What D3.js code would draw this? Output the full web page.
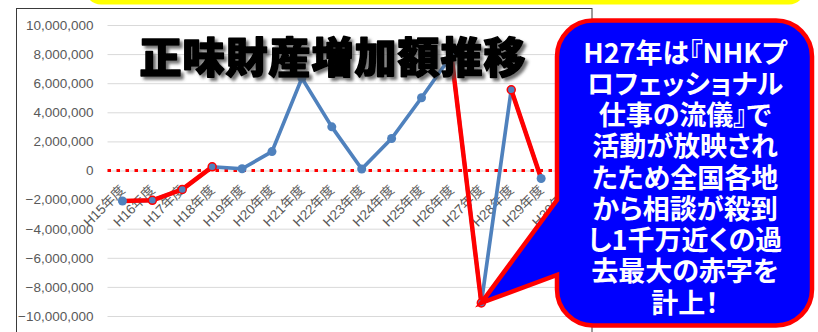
<!DOCTYPE html>
<html>
<head>
<meta charset="utf-8">
<script src="https://cdn.jsdelivr.net/npm/d3@7"></script>
<style>
  html, body { margin: 0; padding: 0; background: #fff; }
  svg { display: block; }
</style>
</head>
<body>
<svg id="chart" width="818" height="332"></svg>
<script>
// ---- data ----
const categories = ["H15年度","H16年度","H17年度","H18年度","H19年度","H20年度","H21年度","H22年度",
                    "H23年度","H24年度","H25年度","H26年度","H27年度","H28年度","H29年度","H30年度"];
const values = [-2100000, -2050000, -1300000, 250000, 120000, 1300000, 6350000, 3000000,
                100000, 2200000, 5000000, 7900000, -9100000, 5550000, -550000, null];
const yTicks = [10000000, 8000000, 6000000, 4000000, 2000000, 0, -2000000, -4000000, -6000000, -8000000, -10000000];
const redSegments = [["H15年度","H18年度"], ["H26年度","H27年度"], ["H28年度","H29年度"]];
const highlighted = ["H16年度","H17年度","H18年度","H27年度","H28年度"];
const titleText = "正味財産増加額推移";
const calloutLines = ["H27年は『NHKプ","ロフェッショナル","仕事の流儀』で","活動が放映され",
                      "たため全国各地","から相談が殺到","し1千万近くの過","去最大の赤字を","計上！"];
const calloutTarget = "H27年度";

// ---- layout ----
const svg = d3.select("#chart");
const plot = {left: 107.5, right: 586, top: 25, bottom: 316};
const x = d3.scaleBand().domain(categories).range([plot.left, plot.right]).padding(0);
const cx = c => x(c) + x.bandwidth() / 2;
const y = d3.scaleLinear().domain([-10000000, 10000000]).range([plot.bottom, plot.top]);

const defs = svg.append("defs");
const f = defs.append("filter").attr("id", "shadow").attr("x", "-10%").attr("y", "-30%").attr("width", "130%").attr("height", "170%");
f.append("feDropShadow").attr("dx", 3).attr("dy", 3).attr("stdDeviation", 1.8)
  .attr("flood-color", "#444").attr("flood-opacity", 0.75);

// yellow banner (cut off at top)
svg.append("rect").attr("x", 85).attr("y", -40).attr("width", 720).attr("height", 44.5)
  .attr("rx", 16).attr("fill", "#FFFF00");

// chart frame
svg.append("rect").attr("x", 16.5).attr("y", 8.5).attr("width", 575.5).attr("height", 340)
  .attr("fill", "#fff").attr("stroke", "#3a3a3a").attr("stroke-width", 1);

// gridlines
const grid = svg.append("g").attr("transform", `translate(${plot.left},0)`)
  .call(d3.axisLeft(y).tickValues(yTicks).tickSize(-(plot.right - plot.left)).tickFormat(""));
grid.select(".domain").remove();
grid.selectAll("line").attr("stroke", "#d9d9d9").attr("stroke-width", 1);

// y labels
const yAxis = svg.append("g").attr("transform", `translate(${plot.left},0)`)
  .call(d3.axisLeft(y).tickValues(yTicks).tickSize(0).tickPadding(14).tickFormat(d3.format(",")));
yAxis.select(".domain").remove();
yAxis.selectAll("text").attr("fill", "#595959")
  .style("font-family", "'Liberation Sans', Arial, sans-serif").style("font-size", "13.5px");

// zero line (red dotted)
svg.append("line").attr("x1", plot.left).attr("x2", plot.right + 4)
  .attr("y1", y(0)).attr("y2", y(0))
  .attr("stroke", "#FF0000").attr("stroke-width", 3.2).attr("stroke-dasharray", "3.5,5.5");

// x labels
const xAxis = svg.append("g").attr("transform", `translate(0,${y(0)})`)
  .call(d3.axisBottom(x).tickSize(0));
xAxis.select(".domain").remove();
xAxis.selectAll("text")
  .attr("x", 0).attr("y", 0).attr("dy", "0.35em")
  .attr("text-anchor", "end")
  .attr("transform", "translate(0,17) rotate(-45)")
  .attr("fill", "#595959")
  .style("font-family", "'Liberation Sans', 'Noto Sans CJK JP', sans-serif").style("font-size", "13.5px");

// blue series
const pts = categories.map((c, i) => ({c, v: values[i]}));
const line = d3.line().defined(d => d.v !== null).x(d => cx(d.c)).y(d => y(d.v));
svg.append("path").datum(pts).attr("d", line)
  .attr("fill", "none").attr("stroke", "#4F81BD").attr("stroke-width", 3.7).attr("stroke-linejoin", "round");

// red highlight segments
redSegments.forEach(([a, b]) => {
  const i0 = categories.indexOf(a), i1 = categories.indexOf(b);
  svg.append("path").datum(pts.slice(i0, i1 + 1)).attr("d", line)
    .attr("fill", "none").attr("stroke", "#FF0000").attr("stroke-width", 4.5)
    .attr("stroke-linejoin", "round");
});

// markers
svg.append("g").selectAll("circle").data(pts.filter(d => d.v !== null)).join("circle")
  .attr("cx", d => cx(d.c)).attr("cy", d => y(d.v))
  .attr("r", d => highlighted.includes(d.c) ? 4 : 4.5)
  .attr("fill", "#4F81BD")
  .attr("stroke", d => highlighted.includes(d.c) ? "#FF0000" : "none")
  .attr("stroke-width", 1.5);

// title
svg.append("text").attr("x", 333).attr("y", 54)
  .attr("text-anchor", "middle").attr("dominant-baseline", "central")
  .attr("filter", "url(#shadow)")
  .style("font-family", "'Noto Sans CJK JP', sans-serif").style("font-weight", 900)
  .style("font-size", "42px").style("letter-spacing", "1px")
  .attr("fill", "#000").attr("stroke", "#000").attr("stroke-width", 1.6).attr("stroke-linejoin", "round")
  .text(titleText);

// callout (wedge round-rect)
const tipIdx = categories.indexOf(calloutTarget);
const tip = [cx(calloutTarget), y(values[tipIdx])];
const bx0 = 557, bx1 = 812, by0 = 20.5, by1 = 325.5, r = 36;
const tail0 = 200, tail1 = 275;
const p = d3.path();
p.moveTo(bx0 + r, by0);
p.lineTo(bx1 - r, by0);
p.arcTo(bx1, by0, bx1, by0 + r, r);
p.lineTo(bx1, by1 - r);
p.arcTo(bx1, by1, bx1 - r, by1, r);
p.lineTo(bx0 + r, by1);
p.arcTo(bx0, by1, bx0, by1 - r, r);
p.lineTo(bx0, tail1);
p.lineTo(tip[0], tip[1]);
p.lineTo(bx0, tail0);
p.lineTo(bx0, by0 + r);
p.arcTo(bx0, by0, bx0 + r, by0, r);
p.closePath();
svg.append("path").attr("d", p.toString())
  .attr("fill", "#0000FF").attr("stroke", "#FF0000").attr("stroke-width", 4.5).attr("stroke-linejoin", "miter");

const ct = svg.append("text")
  .attr("text-anchor", "middle")
  .style("font-family", "'Noto Sans CJK JP', sans-serif").style("font-weight", 700)
  .style("font-size", "27px").style("font-feature-settings", "'palt' 1")
  .attr("fill", "#fff");
calloutLines.forEach((t, i) => {
  ct.append("tspan").attr("x", 685).attr("y", 51 + i * 31.25).attr("dominant-baseline", "central").text(t);
});
</script>
</body>
</html>
